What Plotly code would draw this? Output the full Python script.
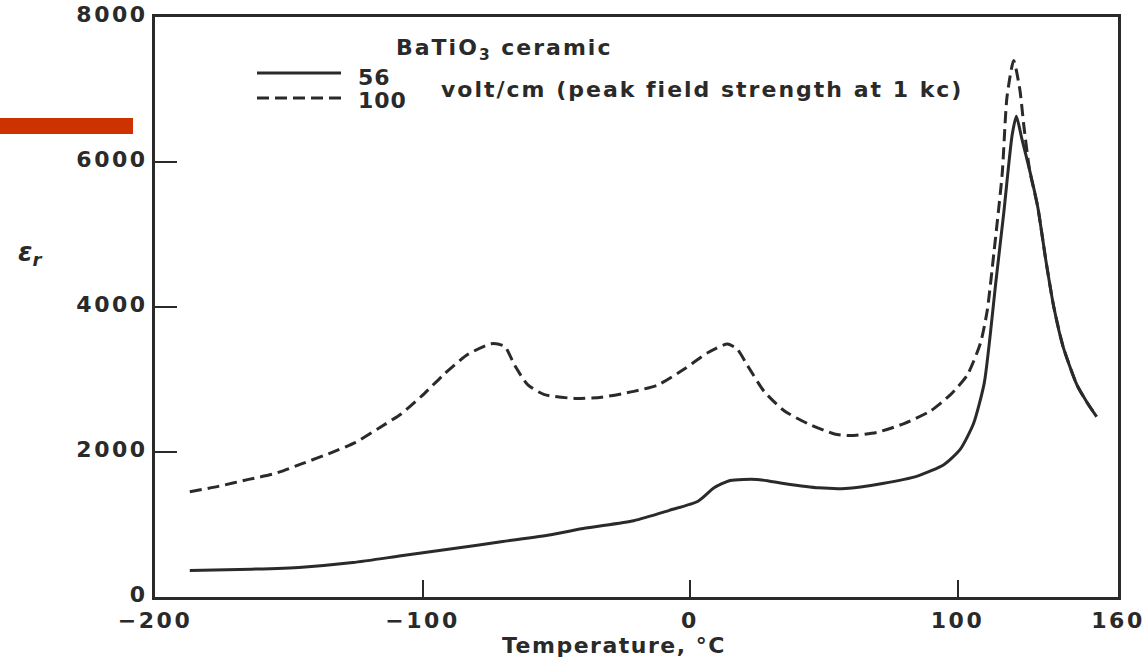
import plotly.graph_objects as go

# Temperature (°C) and relative permittivity for 56 volt/cm (solid)
temp_56 = [-187, -164, -145, -126, -108, -89, -70, -52, -39, -21, -8, 3, 9, 15, 25, 35,
           48, 58, 72, 85, 95, 101, 106, 110, 112.3, 114.2, 117.3, 120.4, 122, 124,
           127, 130, 133, 136, 139.5, 144.7, 148.5, 152]
eps_56 = [365, 384, 412, 475, 568, 665, 766, 860, 952, 1053, 1192, 1321, 1506, 1608, 1622, 1566,
          1506, 1497, 1566, 1667, 1829, 2036, 2392, 2950, 3636, 4300, 5300, 6364, 6630, 6330,
          5880, 5380, 4650, 4000, 3450, 2921, 2680, 2488]

# Temperature (°C) and relative permittivity for 100 volt/cm (dashed)
temp_100 = [-187, -176, -165, -155, -145, -134, -125, -116.5, -108, -100.4, -91.7, -83, -74.3,
            -69.3, -65.5, -60.6, -54.4, -43, -33, -21, -12, -2, 6.6, 14, 17.8, 21.5, 27.7,
            35.2, 44, 54, 60, 70, 80, 90, 97.4, 103.6, 108.6, 111.1, 113.6, 116.7, 118.5,
            121, 123.3, 124.8, 127, 130, 133, 136, 139.5, 144.7, 148.5, 152]
eps_100 = [1451, 1529, 1622, 1705, 1839, 1992, 2133, 2325, 2525, 2769, 3080, 3347, 3493,
           3459, 3192, 2925, 2792, 2739, 2756, 2836, 2925, 3147, 3369, 3489, 3413, 3192, 2836,
           2569, 2392, 2249, 2227, 2272, 2392, 2569, 2792, 3058, 3503, 3947, 4745, 5833, 6896,
           7400, 7000, 6500, 5880, 5380, 4650, 4000, 3450, 2921, 2680, 2488]

x_tickvals = [-200, -100, 0, 100, 160]
x_ticktext = ["\u2212200", "\u2212100", "0", "100", "160"]
y_tickvals = [0, 2000, 4000, 6000, 8000]
y_ticktext = ["0", "2000", "4000", "6000", "8000"]

INK = "#2a2a2a"
FONT = "DejaVu Sans"

def wide(s, sp=1.5):
    return '<span style="letter-spacing:%spx">%s</span>' % (sp, s)

fig = go.Figure()
fig.add_trace(go.Scatter(x=temp_56, y=eps_56, mode="lines", name="56",
                         line=dict(color=INK, width=3, shape="spline", smoothing=0.6)))
fig.add_trace(go.Scatter(x=temp_100, y=eps_100, mode="lines", name="100",
                         line=dict(color=INK, width=3, dash="12px,6px", shape="spline", smoothing=0.6)))

W, H = 1145, 658
L, R, T, B = 155, 27, 17, 61
pw, ph = W - L - R, H - T - B

def px(x):
    return (x - L) / pw

def py(y):
    return (H - B - y) / ph

fig.update_layout(
    width=W, height=H,
    margin=dict(l=L, r=R, t=T, b=B),
    paper_bgcolor="white", plot_bgcolor="white",
    showlegend=False,
    font=dict(family=FONT, color=INK, size=22, weight="bold"),
    xaxis=dict(range=[-200, 160], tickvals=x_tickvals, ticktext=[wide(t, 2.5) for t in x_ticktext],
               showgrid=False, zeroline=False, showline=True, linewidth=3, linecolor=INK,
               mirror=True, ticks="inside", ticklen=17, tickwidth=2, tickcolor=INK,
               tickfont=dict(size=22, weight="bold"), automargin=False, ticklabelstandoff=2),
    yaxis=dict(range=[0, 8000], tickvals=y_tickvals, ticktext=[wide(t, 2.5) for t in y_ticktext],
               showgrid=False, zeroline=False, showline=True, linewidth=3, linecolor=INK,
               mirror=True, ticks="inside", ticklen=22, tickwidth=2, tickcolor=INK,
               tickfont=dict(size=22, weight="bold"), automargin=False, ticklabelshift=-3),
)

shapes = [
    # legend key lines
    dict(type="line", xref="paper", yref="paper", x0=px(257), x1=px(341), y0=py(73), y1=py(73),
         line=dict(color=INK, width=3)),
    dict(type="line", xref="paper", yref="paper", x0=px(257), x1=px(341), y0=py(98), y1=py(98),
         line=dict(color=INK, width=3, dash="12px,6px")),
    # red decorative bar
    dict(type="rect", xref="paper", yref="paper", x0=px(-5), x1=px(133), y0=py(134), y1=py(118),
         fillcolor="#cc3300", line=dict(width=0)),
]
fig.update_layout(shapes=shapes)

annotations = [
    dict(text=wide("BaTiO<sub>3</sub> ceramic", 2), x=px(394), y=py(50), xanchor="left",
         yanchor="middle", font=dict(size=22, weight="bold")),
    dict(text=wide("56", 1), x=px(356), y=py(77), xanchor="left", yanchor="middle",
         font=dict(size=22, weight="bold")),
    dict(text=wide("100", 1), x=px(356), y=py(101), xanchor="left", yanchor="middle",
         font=dict(size=22, weight="bold")),
    dict(text=wide("volt/cm (peak field strength at 1 kc)", 2), x=px(439), y=py(89), xanchor="left",
         yanchor="middle", font=dict(size=22, weight="bold")),
    dict(text=wide("Temperature, °C", 1.5), x=px(614), y=py(645), xanchor="center", yanchor="middle",
         font=dict(size=22, weight="bold")),
    dict(text="<i>\u03b5<sub>r</sub></i>", x=px(30), y=py(253), xanchor="center", yanchor="middle",
         font=dict(size=26, weight="bold")),
]
for a in annotations:
    a.update(xref="paper", yref="paper", showarrow=False)
fig.update_layout(annotations=annotations)

fig.write_html("out.html", config={"displayModeBar": False},
               post_script="document.body.style.margin='0';")
